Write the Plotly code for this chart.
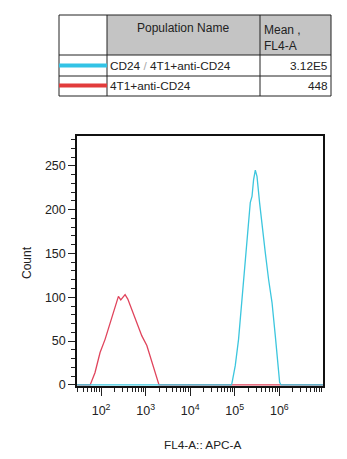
import plotly.graph_objects as go

# ---- data (FL4-A value, count) ----
red_fl4 = [29, 57, 73, 95, 123, 159, 206, 245, 277, 346, 398, 490, 631, 822, 1064, 1377, 1778, 1995, 9.5e6]
red_count = [0, 0, 14, 37, 52, 71, 90, 101, 97, 103, 98, 86, 71, 56, 45, 26, 7, 0, 0]

cyan_fl4 = [29, 83000, 86500, 102600, 121600, 145200, 172200, 204200, 222800, 243800, 264200,
            289100, 315500, 360600, 408300, 484200, 575400, 685500, 812800, 916200,
            1016000, 1091000, 9.5e6]
cyan_count = [0, 0, 2, 22, 52, 98, 143, 189, 208, 215, 234, 245, 238, 208, 181, 151, 120,
              94, 56, 22, 3, 0, 0]

x_tickvals = [1e2, 1e3, 1e4, 1e5, 1e6]
x_ticktext = ["10<sup>2</sup>", "10<sup>3</sup>", "10<sup>4</sup>", "10<sup>5</sup>", "10<sup>6</sup>"]

table_header = ["Population Name", "Mean ,<br>FL4-A"]
table_names = ["CD24 <span style='color:#aaaaaa'>/</span> 4T1+anti-CD24", "4T1+anti-CD24"]
table_means = ["3.12E5", "448"]
table_colors = ["#33c3e6", "#e23c3c"]

W, H = 347, 459
L, R, T, B = 77, 24, 136, 73
PW, PH = W - L - R, H - T - B

def X(px):
    return (px - L) / PW

def Y(py):
    return (H - B - py) / PH

FONT = "Liberation Sans, Arial, sans-serif"
TXT = "#222"

fig = go.Figure()
fig.add_trace(go.Scatter(x=red_fl4, y=red_count, mode="lines",
                         line=dict(color="#e0445c", width=1.3), showlegend=False))
fig.add_trace(go.Scatter(x=cyan_fl4, y=cyan_count, mode="lines",
                         line=dict(color="#3cc6de", width=1.3), showlegend=False))

minor_vals = [k * 10 ** d for d in range(1, 7) for k in range(2, 10) if 29 <= k * 10 ** d <= 9.5e6]

fig.update_layout(
    width=W, height=H,
    margin=dict(l=L, r=R, t=T, b=B),
    paper_bgcolor="white", plot_bgcolor="white",
    font=dict(family=FONT, size=11.5, color=TXT),
    xaxis=dict(type="log", range=[1.46, 6.98], tickvals=x_tickvals, ticktext=x_ticktext,
               ticks="outside", ticklen=8, tickwidth=1, tickcolor=TXT,
               showline=True, linecolor="#111", linewidth=1.5, mirror=True,
               showgrid=False, zeroline=False, ticklabelstandoff=4,
               tickfont=dict(size=12.5, color=TXT),
               minor=dict(tickvals=minor_vals, ticks="outside", ticklen=4,
                          tickcolor=TXT, showgrid=False)),
    yaxis=dict(range=[-1.2, 284], tickvals=[0, 50, 100, 150, 200, 250],
               ticks="outside", ticklen=7, tickwidth=1, tickcolor=TXT,
               showline=True, linecolor="#111", linewidth=1.5, mirror=True,
               showgrid=False, zeroline=False,
               tickfont=dict(size=12.5, color=TXT),
               minor=dict(dtick=10, ticks="outside", ticklen=4, tickcolor=TXT, showgrid=False)),
)

shapes = []
# header fill (columns 2-3)
shapes.append(dict(type="rect", xref="paper", yref="paper", x0=X(107), x1=X(331), y0=Y(55), y1=Y(15),
                   fillcolor="#c4c4c4", line=dict(width=0), layer="below"))
# outer border
shapes.append(dict(type="rect", xref="paper", yref="paper", x0=X(59), x1=X(331), y0=Y(96), y1=Y(15),
                   fillcolor="rgba(0,0,0,0)", line=dict(color="#222", width=1)))
# row lines
for py in [55, 76]:
    shapes.append(dict(type="line", xref="paper", yref="paper", x0=X(59), x1=X(331), y0=Y(py), y1=Y(py),
                       line=dict(color="#222", width=1)))
# column lines
for px in [107, 260]:
    shapes.append(dict(type="line", xref="paper", yref="paper", x0=X(px), x1=X(px), y0=Y(96), y1=Y(15),
                       line=dict(color="#222", width=1)))
# colour swatches
for i, c in enumerate(table_colors):
    py = 65.5 + 20 * i
    shapes.append(dict(type="line", xref="paper", yref="paper", x0=X(59), x1=X(107), y0=Y(py), y1=Y(py),
                       line=dict(color=c, width=4)))
fig.update_layout(shapes=shapes)

ann = []
ann.append(dict(xref="paper", yref="paper", x=X(182.5), y=Y(28), text=table_header[0], showarrow=False,
                xanchor="center", yanchor="middle", font=dict(size=12, color=TXT)))
ann.append(dict(xref="paper", yref="paper", x=X(261.5), y=Y(37.5), text=table_header[1], showarrow=False,
                xanchor="left", yanchor="middle", align="left", font=dict(size=12, color=TXT)))
for i in range(2):
    py = 65.5 + 20 * i
    ann.append(dict(xref="paper", yref="paper", x=X(108), y=Y(py), text=table_names[i], showarrow=False,
                    xanchor="left", yanchor="middle", font=dict(size=11.8, color=TXT)))
    ann.append(dict(xref="paper", yref="paper", x=X(330), y=Y(py), text=table_means[i], showarrow=False,
                    xanchor="right", yanchor="middle", font=dict(size=11.8, color=TXT)))
ann.append(dict(xref="paper", yref="paper", x=X(27), y=Y(263), text="Count", showarrow=False,
                textangle=-90, xanchor="center", yanchor="middle", font=dict(size=12, color=TXT)))
ann.append(dict(xref="paper", yref="paper", x=X(202), y=Y(445), text="FL4-A:: APC-A", showarrow=False,
                xanchor="center", yanchor="middle", font=dict(size=11.8, color=TXT)))
fig.update_layout(annotations=ann)

fig.write_html("out.html")
